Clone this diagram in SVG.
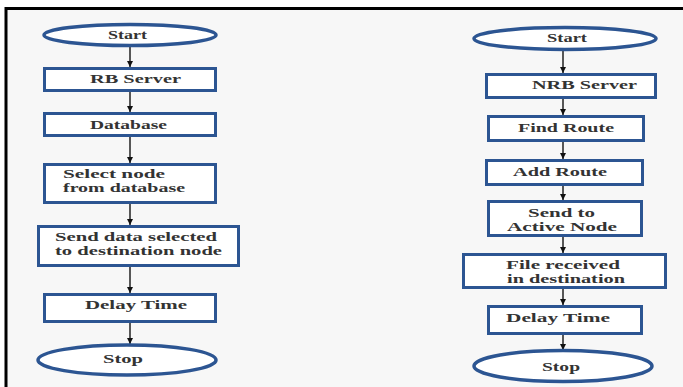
<svg xmlns="http://www.w3.org/2000/svg" width="683" height="387" viewBox="0 0 683 387">
<defs>
<style>
.bg{fill:#f7f7f7}
.frame{stroke:#000;stroke-width:3;fill:none}
.box{fill:#fff;stroke:#2c5592;stroke-width:3}
.term{fill:#fff;stroke:#2c5592;stroke-width:3.5}
.t{font-family:"Liberation Serif","Times New Roman",serif;font-weight:bold;font-size:13px;fill:#333;text-anchor:start}
.t2{font-family:"Liberation Serif","Times New Roman",serif;font-weight:bold;font-size:12px;fill:#333;text-anchor:start}
.ts{font-family:"Liberation Serif","Times New Roman",serif;font-weight:bold;font-size:12px;fill:#333;text-anchor:start}
.c{stroke:#222;stroke-width:1.5;fill:none;marker-end:url(#ah)}
</style>
<marker id="ah" viewBox="0 0 10 10" refX="10" refY="5" markerWidth="6" markerHeight="6" markerUnits="userSpaceOnUse" orient="auto">
<path d="M0,0 L10,5 L0,10 z" fill="#111"/>
</marker>
</defs>
<rect x="0" y="0" width="683" height="387" fill="#fff"/>
<rect class="bg" x="6" y="9" width="677" height="378"/>
<path class="frame" d="M6,387 V8.5 H683"/>

<g id="connectors">
<line class="c" x1="130" y1="46" x2="130" y2="67"/>
<line class="c" x1="130" y1="92" x2="130" y2="112"/>
<line class="c" x1="130" y1="137" x2="130" y2="163"/>
<line class="c" x1="130" y1="204" x2="130" y2="225"/>
<line class="c" x1="130" y1="267" x2="130" y2="293"/>
<line class="c" x1="130" y1="323" x2="130" y2="344"/>
<line class="c" x1="563" y1="50" x2="563" y2="73"/>
<line class="c" x1="563" y1="99" x2="563" y2="115"/>
<line class="c" x1="563" y1="142" x2="563" y2="159"/>
<line class="c" x1="563" y1="186" x2="563" y2="200"/>
<line class="c" x1="563" y1="237" x2="563" y2="253"/>
<line class="c" x1="563" y1="289" x2="563" y2="305"/>
<line class="c" x1="563" y1="335" x2="563" y2="350"/>
</g>

<g id="l-start">
<ellipse class="term" cx="130" cy="35" rx="86" ry="10.5"/>
<text class="ts" x="108" y="39" textLength="39" lengthAdjust="spacingAndGlyphs">Start</text>
</g>
<g id="l-rb">
<rect class="box" x="44.5" y="68.5" width="171" height="22"/>
<text class="t" x="90" y="83" textLength="91" lengthAdjust="spacingAndGlyphs">RB Server</text>
</g>
<g id="l-db">
<rect class="box" x="44.5" y="113.5" width="171" height="22"/>
<text class="t" x="90" y="129" textLength="77" lengthAdjust="spacingAndGlyphs">Database</text>
</g>
<g id="l-select">
<rect class="box" x="44.5" y="164.5" width="171" height="38"/>
<text class="t2" x="63" y="178" textLength="102" lengthAdjust="spacingAndGlyphs">Select node</text>
<text class="t2" x="63" y="192" textLength="122" lengthAdjust="spacingAndGlyphs">from database</text>
</g>
<g id="l-send">
<rect class="box" x="38.5" y="226.5" width="200" height="39"/>
<text class="t2" x="55" y="241" textLength="162" lengthAdjust="spacingAndGlyphs">Send data selected</text>
<text class="t2" x="55" y="255" textLength="167" lengthAdjust="spacingAndGlyphs">to destination node</text>
</g>
<g id="l-delay">
<rect class="box" x="44.5" y="294.5" width="171" height="27"/>
<text class="t" x="85" y="309" textLength="102" lengthAdjust="spacingAndGlyphs">Delay Time</text>
</g>
<g id="l-stop">
<ellipse class="term" cx="127" cy="360" rx="89" ry="15"/>
<text class="t" x="103" y="363" textLength="40" lengthAdjust="spacingAndGlyphs">Stop</text>
</g>

<g id="r-start">
<ellipse class="term" cx="565" cy="38.5" rx="91" ry="11"/>
<text class="ts" x="547" y="42" textLength="40" lengthAdjust="spacingAndGlyphs">Start</text>
</g>
<g id="r-nrb">
<rect class="box" x="486.5" y="74.5" width="169" height="23"/>
<text class="t" x="532" y="89" textLength="105" lengthAdjust="spacingAndGlyphs">NRB Server</text>
</g>
<g id="r-find">
<rect class="box" x="488.5" y="116.5" width="155" height="24"/>
<text class="t" x="518" y="132" textLength="96" lengthAdjust="spacingAndGlyphs">Find Route</text>
</g>
<g id="r-add">
<rect class="box" x="486.5" y="160.5" width="156" height="24"/>
<text class="t" x="513" y="176" textLength="94" lengthAdjust="spacingAndGlyphs">Add Route</text>
</g>
<g id="r-send">
<rect class="box" x="488.5" y="201.5" width="153" height="34"/>
<text class="t2" x="528" y="217" textLength="67" lengthAdjust="spacingAndGlyphs">Send to</text>
<text class="t2" x="507" y="231" textLength="110" lengthAdjust="spacingAndGlyphs">Active Node</text>
</g>
<g id="r-file">
<rect class="box" x="463.5" y="254.5" width="202" height="33"/>
<text class="t2" x="506" y="269" textLength="114" lengthAdjust="spacingAndGlyphs">File received</text>
<text class="t2" x="507" y="283" textLength="118" lengthAdjust="spacingAndGlyphs">in destination</text>
</g>
<g id="r-delay">
<rect class="box" x="488.5" y="306.5" width="153" height="27"/>
<text class="t" x="506" y="322" textLength="104" lengthAdjust="spacingAndGlyphs">Delay Time</text>
</g>
<g id="r-stop">
<ellipse class="term" cx="563" cy="366" rx="89" ry="15.5"/>
<text class="t" x="542" y="371" textLength="38" lengthAdjust="spacingAndGlyphs">Stop</text>
</g>
</svg>
